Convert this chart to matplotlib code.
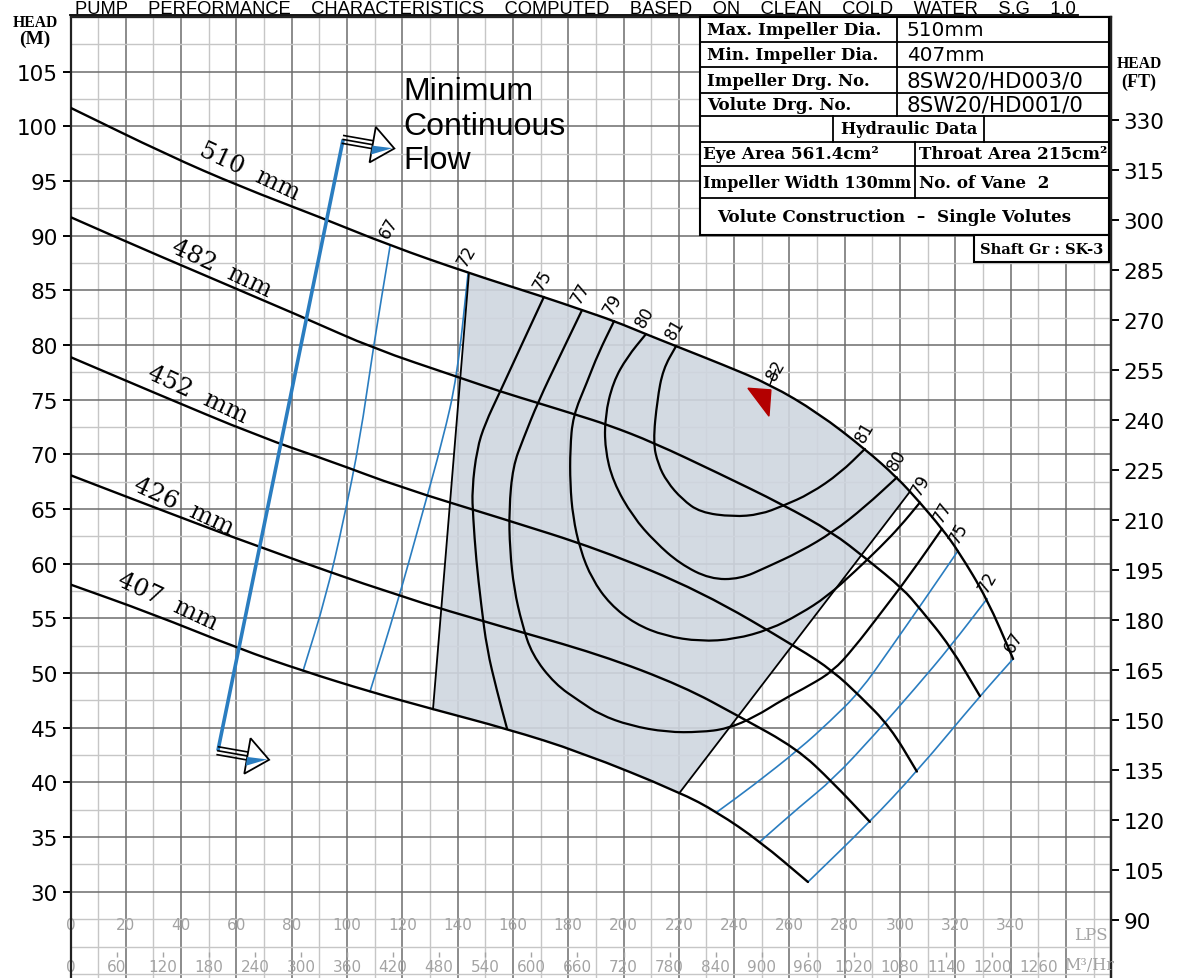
import numpy as np
import matplotlib
matplotlib.use("Agg")
import matplotlib.pyplot as plt
from matplotlib.ticker import MultipleLocator, FixedLocator
from matplotlib.patches import Polygon, Rectangle, PathPatch
from matplotlib.path import Path

# ---------------- data (flow in LPS, head in m) ----------------
flow_510 = [0, 34.9, 61.3, 90.2, 115.6, 143.8, 171.2, 185.0, 196.6, 208.1, 219.0, 236.0, 253.0,
            270.4, 287.3, 298.9, 307.2, 315.2, 321.0, 331.5, 340.9]
head_510 = [101.7, 97.4, 94.5, 91.7, 89.1, 86.6, 84.4, 83.2, 82.2, 81.0, 79.9, 78.2, 76.4,
            73.8, 70.5, 67.9, 65.6, 63.2, 61.2, 56.8, 51.3]
flow_482 = [0, 28.8, 85.5, 109.4, 139.8, 156.1, 169.1, 183.2, 194.4, 210.7, 234.2, 257.7,
            275.4, 288.1, 301.1, 307.2, 318.1, 328.9]
head_482 = [91.7, 88.5, 82.4, 79.7, 77.1, 75.7, 74.7, 73.6, 72.7, 71.1, 68.3, 65.4,
            62.9, 60.4, 57.7, 55.9, 52.5, 47.9]
flow_452 = [0, 28.8, 68.5, 93.9, 119.2, 155.3, 191.5, 227.9, 263.8, 275.7, 285.5, 296.4, 306.1]
head_452 = [78.9, 75.8, 71.6, 69.4, 67.0, 64.2, 61.3, 57.5, 52.2, 50.2, 47.9, 45.1, 41.0]
flow_426 = [0, 28.8, 68.5, 119.2, 155.3, 191.5, 221.5, 242.1, 262.7, 275.7, 289.1]
head_426 = [68.1, 65.3, 61.5, 57.0, 54.3, 51.7, 48.8, 46.0, 43.1, 40.0, 36.4]
flow_407 = [0, 28.8, 61.3, 84.1, 108.3, 131.1, 157.9, 184.3, 220.4, 233.8, 249.4, 266.7]
head_407 = [58.1, 55.5, 52.2, 50.2, 48.3, 46.7, 44.9, 42.8, 39.1, 37.3, 34.6, 30.9]
impeller_labels = ["510  mm", "482  mm", "452  mm", "426  mm", "407  mm"]
impeller_label_q = [64.9, 54.8, 46.1, 41.0, 35.3]
impeller_label_h = [95.9, 87.1, 75.5, 65.3, 56.6]

# iso-efficiency curves
eff75_left_q = [171.2, 163.3, 155.3, 149.9, 147.0, 145.2, 145.6, 146.7, 148.5, 150.6, 154.2, 157.9]
eff75_left_h = [84.4, 80.1, 75.7, 72.8, 70.5, 66.8, 64.3, 60.4, 56.3, 52.2, 48.4, 44.9]
eff77_q = [185.0, 177.0, 169.1, 163.7, 160.0, 158.6, 158.9, 160.4, 163.3, 166.9, 175.2, 184.3, 191.5,
           202.4, 215.7, 227.7, 237.4, 247.6, 257.7, 267.5, 275.8, 283.0, 292.8, 303.6, 315.2]
eff77_h = [83.2, 79.0, 74.8, 71.4, 68.9, 65.0, 61.3, 57.7, 54.5, 51.7, 49.0, 47.4, 46.2,
           45.2, 44.6, 44.6, 44.9, 46.0, 47.6, 48.9, 50.2, 52.2, 55.4, 59.0, 63.2]
eff79_q = [196.6, 190.8, 186.8, 181.7, 180.7, 180.7, 181.7, 184.3, 188.6, 195.1, 204.2, 215.0, 227.7,
           240.3, 253.0, 263.8, 273.6, 283.7, 292.8, 300.0, 307.2]
eff79_h = [82.2, 79.2, 76.6, 73.5, 70.5, 67.3, 64.3, 61.3, 58.6, 56.3, 54.5, 53.4, 52.9,
           53.1, 54.0, 55.4, 57.0, 59.3, 61.5, 63.4, 65.6]
eff80_q = [208.1, 201.3, 196.2, 193.3, 193.3, 196.2, 203.4, 211.4, 220.4, 231.3, 242.1, 251.9,
           263.8, 275.8, 287.3, 298.9]
eff80_h = [81.0, 78.9, 76.6, 73.5, 70.5, 67.5, 64.3, 62.0, 60.0, 58.6, 58.6, 59.7,
           61.1, 62.9, 65.2, 67.9]
eff81_q = [219.0, 214.3, 212.2, 210.7, 212.5, 215.7, 221.2, 227.7, 239.6, 249.4, 257.7, 267.5, 278.4, 287.3]
eff81_h = [79.9, 77.8, 75.0, 71.1, 69.1, 67.5, 65.9, 64.7, 64.3, 64.5, 65.3, 66.4, 68.3, 70.5]
eff67_left_q = [115.6, 109.4, 104.7, 98.9, 92.4, 84.1]
eff67_left_h = [89.1, 79.6, 71.4, 64.1, 57.0, 50.2]
eff72_left_q = [143.8, 139.8, 134.7, 126.7, 118.1, 108.3]
eff72_left_h = [86.6, 77.1, 71.4, 64.1, 56.3, 48.3]
eff75_right_q = [321.0, 309.1, 296.4, 285.5, 274.7, 263.8, 246.8, 233.8]
eff75_right_h = [61.2, 56.8, 52.2, 48.3, 45.6, 43.1, 39.7, 37.3]
eff72_right_q = [331.5, 318.1, 306.1, 290.9, 275.8, 263.8, 249.4]
eff72_right_h = [56.8, 52.4, 48.8, 44.4, 40.3, 37.8, 34.6]
eff67_right_q = [340.9, 328.9, 306.1, 289.1, 266.7]
eff67_right_h = [51.3, 47.9, 41.0, 36.4, 30.9]

# preferred operating region boundaries
region_left_q = [144.1, 131.1]
region_left_h = [86.6, 46.7]
region_right_q = [303.6, 220.4]
region_right_h = [66.6, 39.1]

# minimum continuous flow line
mcf_q = [53.3, 98.6]
mcf_h = [42.9, 98.8]

# best efficiency marker
bep_q = [245.0, 253.3, 252.6]
bep_h = [76.05, 75.9, 73.5]

eff_left_labels = ["67", "72", "75", "77", "79", "80", "81"]
eff_left_q = [115.6, 143.8, 171.2, 185.0, 196.6, 208.1, 219.0]
eff_left_h = [89.1, 86.6, 84.4, 83.2, 82.2, 81.0, 79.9]
eff_right_labels = ["81", "80", "79", "77", "75", "72", "67"]
eff_right_q = [287.3, 298.9, 307.2, 315.2, 321.0, 331.5, 340.9]
eff_right_h = [70.5, 67.9, 65.6, 63.2, 61.2, 56.8, 51.3]
bep_label_q, bep_label_h = 253.0, 76.4

head_m_ticks = list(range(30, 106, 5))
head_ft_ticks = list(range(90, 331, 15))
lps_labels = list(range(0, 341, 20))
m3h_labels = list(range(0, 1261, 60))

table_rows = [("Max. Impeller Dia.", "510mm"), ("Min. Impeller Dia.", "407mm"),
              ("Impeller Drg. No.", "8SW20/HD003/0"), ("Volute Drg. No.", "8SW20/HD001/0")]
title = "PUMP    PERFORMANCE    CHARACTERISTICS    COMPUTED    BASED    ON    CLEAN    COLD    WATER    S.G    1.0"

# ---------------- figure ----------------
W, HP = 1178, 979
fig = plt.figure(figsize=(W / 100, HP / 100), dpi=100)
fig.patch.set_facecolor("white")
X0, X1, Y0 = 70.5, 1111.0, 18.0
ax = fig.add_axes([X0 / W, 0.0, (X1 - X0) / W, 1 - Y0 / HP])
ax.set_xlim(0, 376.3)
ax.set_ylim(22.12, 110)

ax.xaxis.set_major_locator(MultipleLocator(20))
ax.xaxis.set_minor_locator(MultipleLocator(10))
ax.yaxis.set_major_locator(FixedLocator(head_m_ticks))
ax.yaxis.set_minor_locator(MultipleLocator(2.5))
ax.grid(True, which="major", axis="both", color="#6c6c6c", lw=1.1)
ax.grid(True, which="minor", axis="both", color="#c6c6c6", lw=1.0)
ax.set_axisbelow(True)
ax.tick_params(axis="x", which="both", length=0, labelbottom=False)
ax.tick_params(axis="y", which="major", direction="out", length=6, width=1.4, labelsize=15.5, pad=3)
ax.tick_params(axis="y", which="minor", length=0)
ax.spines["bottom"].set_visible(False)
for s in ("left", "right", "top"):
    ax.spines[s].set_linewidth(1.6)
    ax.spines[s].set_color("#222222")

sec = ax.secondary_yaxis("right", functions=(lambda m: m * 3.28084, lambda f: f / 3.28084))
sec.set_yticks(head_ft_ticks)
sec.tick_params(direction="out", length=6, width=1.4, labelsize=15.5, pad=3)
sec.spines["right"].set_linewidth(1.6)


def smooth_path(q, h):
    pts = np.column_stack([q, h]).astype(float)
    verts = [pts[0]]
    codes = [Path.MOVETO]
    if len(pts) == 2:
        verts.append(pts[1]); codes.append(Path.LINETO)
    else:
        mids = (pts[:-1] + pts[1:]) / 2
        verts.append(mids[0]); codes.append(Path.LINETO)
        for i in range(1, len(pts) - 1):
            verts += [pts[i], mids[i]]
            codes += [Path.CURVE3, Path.CURVE3]
        verts.append(pts[-1]); codes.append(Path.LINETO)
    return Path(verts, codes)


def curve(q, h, color, lw, z=4):
    ax.add_patch(PathPatch(smooth_path(q, h), fill=False, edgecolor=color, lw=lw, zorder=z,
                           capstyle="round", joinstyle="round"))


# shaded preferred operating region
fq510, fh510 = np.array(flow_510), np.array(head_510)
fq407, fh407 = np.array(flow_407), np.array(head_407)
m_top = (fq510 > region_left_q[0]) & (fq510 < region_right_q[0])
m_bot = (fq407 > region_left_q[1]) & (fq407 < region_right_q[1])
poly = ([(region_left_q[0], region_left_h[0])] + list(zip(fq510[m_top], fh510[m_top])) +
        [(region_right_q[0], region_right_h[0]), (region_right_q[1], region_right_h[1])] +
        list(zip(fq407[m_bot][::-1], fh407[m_bot][::-1])) + [(region_left_q[1], region_left_h[1])])
ax.add_patch(Polygon(poly, closed=True, facecolor="#cfd6df", edgecolor="none", alpha=0.9, zorder=1))

BLUE = "#2a7dc0"
# iso-efficiency curves
curve(eff67_left_q, eff67_left_h, BLUE, 1.2)
curve(eff72_left_q, eff72_left_h, BLUE, 1.2)
curve(eff75_right_q, eff75_right_h, BLUE, 1.2)
curve(eff72_right_q, eff72_right_h, BLUE, 1.2)
curve(eff67_right_q, eff67_right_h, BLUE, 1.2)
ax.plot(region_left_q, region_left_h, color="black", lw=1.3, zorder=4)
ax.plot(region_right_q, region_right_h, color="black", lw=1.3, zorder=4)
for q, h in [(eff75_left_q, eff75_left_h), (eff77_q, eff77_h), (eff79_q, eff79_h),
             (eff80_q, eff80_h), (eff81_q, eff81_h)]:
    curve(q, h, "black", 1.6)

# impeller curves
for q, h in [(flow_510, head_510), (flow_482, head_482), (flow_452, head_452),
             (flow_426, head_426), (flow_407, head_407)]:
    curve(q, h, "black", 1.7, z=5)
for lab, q, h in zip(impeller_labels, impeller_label_q, impeller_label_h):
    ax.text(q, h, lab, rotation=-25, rotation_mode="anchor", ha="center", va="center",
            family="DejaVu Serif", fontsize=17.5, zorder=6)

# MCF line
ax.plot(mcf_q, mcf_h, color=BLUE, lw=2.6, zorder=6, solid_capstyle="butt")

# BEP marker
ax.fill(bep_q, bep_h, color="#b30000", zorder=7)

# efficiency labels
for lab, q, h in zip(eff_left_labels, eff_left_q, eff_left_h):
    ax.annotate(lab, (q, h), xytext=(1, 3), textcoords="offset points", rotation=60,
                rotation_mode="anchor", ha="left", va="bottom", fontsize=12, zorder=7)
for lab, q, h in zip(eff_right_labels, eff_right_q, eff_right_h):
    ax.annotate(lab, (q, h), xytext=(2, 3), textcoords="offset points", rotation=60,
                rotation_mode="anchor", ha="left", va="bottom", fontsize=12, zorder=7)
ax.annotate("82", (bep_label_q, bep_label_h), xytext=(6, 1), textcoords="offset points",
            rotation=60, rotation_mode="anchor", ha="left", va="bottom", fontsize=12, zorder=7,
            arrowprops=dict(arrowstyle="-", lw=1.0, shrinkA=0, shrinkB=0, color="black"))

# bottom scales
GRAY = "#a3a3a3"
for v in lps_labels:
    ax.text(v, 26.97, str(v), ha="center", va="center", color=GRAY, fontsize=11, zorder=2)
for v in m3h_labels:
    ax.text(v / 3.6, 23.13, str(v), ha="center", va="center", color=GRAY, fontsize=11, zorder=2)
ax.vlines([v / 3.6 for v in m3h_labels[1:]], 24.0, 24.5, color=GRAY, lw=1.0, zorder=2)
ax.text(369.0, 26.1, "LPS", ha="center", va="center", color=GRAY, family="DejaVu Serif", fontsize=12)
ax.text(368.5, 23.4, "M³/Hr", ha="center", va="center", color=GRAY, family="DejaVu Serif", fontsize=11.5)

# ---------------- overlay in pixel coordinates ----------------
pix = fig.add_axes([0, 0, 1, 1], zorder=10)
pix.set_xlim(0, W)
pix.set_ylim(HP, 0)
pix.axis("off")
renderer = fig.canvas.get_renderer()


def fit(t, width_px, max_size=None):
    bb = t.get_window_extent(renderer=renderer)
    size = t.get_fontsize() * width_px / bb.width
    if max_size is not None:
        size = min(size, max_size)
    t.set_fontsize(size)
    return size


def to_pix(q, h):
    d = ax.transData.transform((q, h))
    return pix.transData.inverted().transform(d)


# title
fit(pix.text(75, 13.5, title, ha="left", va="baseline", family="Liberation Sans", fontsize=13), 1003, 13.2)
pix.plot([70, 1078], [16.0, 16.0], color="black", lw=1.3)

# head labels
fit(pix.text(35, 27, "HEAD", ha="center", va="baseline", family="Liberation Serif", weight="bold", fontsize=12), 45)
fit(pix.text(35, 44, "(M)", ha="center", va="baseline", family="Liberation Serif", weight="bold", fontsize=12), 31)
fit(pix.text(1139, 68, "HEAD", ha="center", va="baseline", family="Liberation Serif", weight="bold", fontsize=12), 45)
fit(pix.text(1139, 87, "(FT)", ha="center", va="baseline", family="Liberation Serif", weight="bold", fontsize=12), 35)

# table
TL, TR, TC = 700, 1109.3, 896.7
rows_y = [18.3, 43.3, 68.3, 94.0, 117.3, 142.7, 166.7, 199.3, 236.0]
pix.add_patch(Rectangle((TL, rows_y[0]), TR - TL, rows_y[-1] - rows_y[0], facecolor="white",
                        edgecolor="black", lw=1.5, zorder=1))
pix.add_patch(Rectangle((974, 236.0), TR - 974, 27.3, facecolor="white", edgecolor="black", lw=1.5, zorder=1))
for y in rows_y[1:-1]:
    pix.plot([TL, TR], [y, y], color="black", lw=1.3, zorder=2)
pix.plot([TC, TC], [rows_y[0], rows_y[4]], color="black", lw=1.3, zorder=2)
for x in (833.3, 984):
    pix.plot([x, x], [rows_y[4], rows_y[5]], color="black", lw=1.3, zorder=2)
pix.plot([915, 915], [rows_y[5], rows_y[7]], color="black", lw=1.3, zorder=2)

label_w = [174, 171, 162, 144]
value_w = [77, 77, 176, 176]
base = None
for i, (lab, val) in enumerate(table_rows):
    yc = (rows_y[i] + rows_y[i + 1]) / 2
    s = fit(pix.text(706.7, yc, lab, ha="left", va="center", family="DejaVu Serif", weight="bold",
                     fontsize=11, zorder=3), label_w[i], base)
    if base is None:
        base = s
    fit(pix.text(906.7, yc, val, ha="left", va="center", family="DejaVu Sans", fontsize=14, zorder=3), value_w[i])
fit(pix.text(908.7, 130, "Hydraulic Data", ha="center", va="center", family="DejaVu Serif",
             weight="bold", fontsize=11, zorder=3), 136, base)
fit(pix.text(703, 154.7, "Eye Area 561.4cm²", ha="left", va="center", family="DejaVu Serif",
             weight="bold", fontsize=11, zorder=3), 205, base)
fit(pix.text(919, 154.7, "Throat Area 215cm²", ha="left", va="center", family="DejaVu Serif",
             weight="bold", fontsize=11, zorder=3), 187, base)
fit(pix.text(703, 183, "Impeller Width 130mm", ha="left", va="center", family="DejaVu Serif",
             weight="bold", fontsize=11, zorder=3), 209, base)
fit(pix.text(919, 183, "No. of Vane  2", ha="left", va="center", family="DejaVu Serif",
             weight="bold", fontsize=11, zorder=3), 139, base)
fit(pix.text(717, 217.7, "Volute Construction  \u2013  Single Volutes", ha="left", va="center",
             family="DejaVu Serif", weight="bold", fontsize=11, zorder=3), 356, base)
fit(pix.text(980, 249.7, "Shaft Gr : SK-3", ha="left", va="center", family="DejaVu Serif",
             weight="bold", fontsize=9, zorder=3), 123)

# MCF text
for s, yb in (("Minimum", 100), ("Continuous", 135), ("Flow", 169)):
    pix.text(403, yb, s, ha="left", va="baseline", family="Liberation Sans", fontsize=23)


# MCF arrows
def mcf_arrow(tail):
    a = np.deg2rad(10)
    d = np.array([np.cos(a), np.sin(a)])
    n = np.array([-np.sin(a), np.cos(a)])
    tail = np.asarray(tail)
    base_pt = tail + 30 * d
    tip = base_pt + 22 * d
    for off in (-4, 0, 4):
        p0, p1 = tail + off * n, base_pt + off * n
        pix.plot([p0[0], p1[0]], [p0[1], p1[1]], color="black", lw=1.2, zorder=3)
    head = [base_pt - 18 * n, tip, base_pt + 18 * n]
    pix.add_patch(Polygon(head, closed=True, facecolor="white", edgecolor="black", lw=1.3, zorder=4))
    wedge = [base_pt + 1 * n, tip - 2 * d, base_pt + 10 * n]
    pix.add_patch(Polygon(wedge, closed=True, facecolor=BLUE, edgecolor="none", zorder=5))


mcf_arrow(to_pix(mcf_q[0], mcf_h[0]))
mcf_arrow(to_pix(mcf_q[1], mcf_h[1]))

fig.savefig("out.png", dpi=100)
